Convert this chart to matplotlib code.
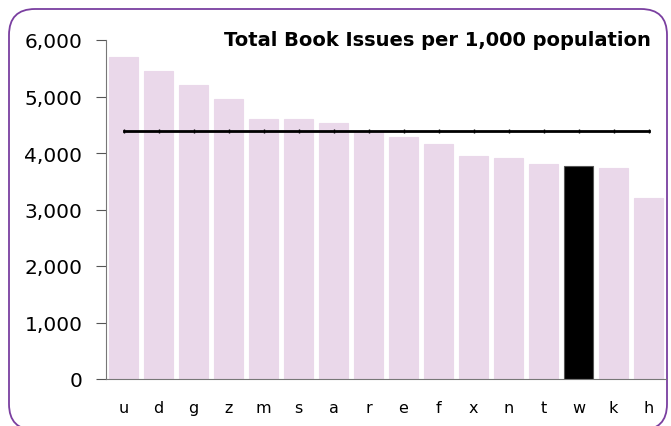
import matplotlib.pyplot as plt
from matplotlib.patches import FancyBboxPatch

# datos
categorias = ['u', 'd', 'g', 'z', 'm', 's', 'a', 'r', 'e', 'f', 'x', 'n', 't', 'w', 'k', 'h']
valores = [5700, 5450, 5200, 4950, 4600, 4600, 4530, 4380, 4280, 4155, 3940, 3905, 3800, 3775, 3730, 3195]
media = [4390] * len(categorias)
destacado = 'w'

color_barra = '#EAD8EA'
color_borde = '#7A3FA0'

fig = plt.figure(figsize=(6.71, 4.27), dpi=100)

# marco redondeado en pixeles
fondo = fig.add_axes([0, 0, 1, 1])
fondo.set_xlim(0, 671)
fondo.set_ylim(0, 427)
fondo.axis('off')
fondo.add_patch(FancyBboxPatch((9, -4), 658, 421, boxstyle='round,pad=0,rounding_size=26',
                               facecolor='white', edgecolor=color_borde, linewidth=1.3))

ax = fig.add_axes([106 / 671, 47 / 427, 560 / 671, 339 / 427])
colores = ['black' if c == destacado else color_barra for c in categorias]
bordes = ['#555555' if c == destacado else color_barra for c in categorias]
x = range(len(categorias))
ax.bar(x, valores, width=0.83, color=colores, edgecolor=bordes, linewidth=0.8)
ax.plot(x, media, color='black', linewidth=2, marker='|', markersize=2.5)

ax.set_xlim(-0.5, len(categorias) - 0.5)
ax.set_ylim(0, 6000)
ax.set_yticks(range(0, 6001, 1000))
ax.set_yticklabels([f'{v:,}' for v in range(0, 6001, 1000)], fontsize=14.5)
ax.set_xticks(list(x))
ax.set_xticklabels(categorias, fontsize=11.5)
ax.tick_params(axis='x', length=0, pad=15)
ax.tick_params(axis='y', length=7, color='#555555', pad=10)
for lado in ['top', 'right']:
    ax.spines[lado].set_visible(False)
ax.spines['left'].set_color('#777777')
ax.spines['bottom'].set_color('#777777')
ax.patch.set_alpha(0)

fig.text(651 / 671, 1 - 40 / 427, 'Total Book Issues per 1,000 population',
         ha='right', va='center', fontsize=14, fontweight='bold')

fig.savefig('out.png', dpi=100)
